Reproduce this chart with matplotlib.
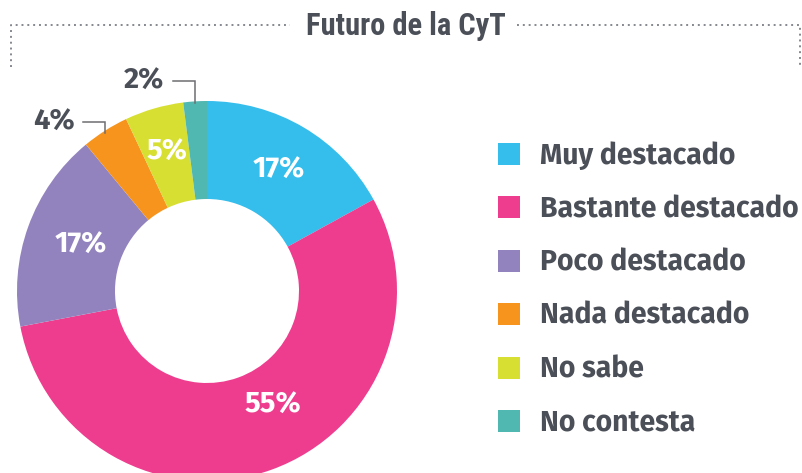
import numpy as np
import matplotlib.pyplot as plt

# data
categories = ['Muy destacado', 'Bastante destacado', 'Poco destacado',
              'Nada destacado', 'No sabe', 'No contesta']
values = [17, 55, 17, 4, 5, 2]
pct_labels = ['17%', '55%', '17%', '4%', '5%', '2%']
colors = ['#35bdec', '#ee3d8f', '#9283be', '#f7941d', '#d7df33', '#50b8b1']
title = 'Futuro de la CyT'

W, H = 802, 473
TXT = '#4b4f58'
GRAY = '#85888e'

fig = plt.figure(figsize=(W / 100, H / 100), dpi=100)
ax = fig.add_axes([0, 0, 1, 1])


def py(y):
    "pixel row (from top) to data y"
    return H - y


cx, cy, R, r_in = 207, py(291), 190, 92
wedges, _ = ax.pie(values, colors=colors, startangle=90, counterclock=False,
                   radius=R, center=(cx, cy), frame=True,
                   wedgeprops=dict(width=R - r_in, linewidth=0))
ax.set_xlim(0, W)
ax.set_ylim(0, H)
ax.set_aspect('equal')
ax.axis('off')

# labels inside the ring
font = ['Fira Sans', 'Roboto', 'DejaVu Sans']
inside = {0: (0, 141), 1: (10.0, 132), 2: (0, 134), 4: (0, 145)}
for i, (dang, rad) in inside.items():
    w = wedges[i]
    ang = np.deg2rad((w.theta1 + w.theta2) / 2 + dang)
    ax.text(cx + rad * np.cos(ang), cy + rad * np.sin(ang), pct_labels[i],
            color='white', fontsize=21, fontweight='bold', family=font,
            ha='center', va='center')

# small slices with leader lines
for i, (lx, ly, tx) in {3: (83, 122, 54), 5: (173, 81, 144)}.items():
    w = wedges[i]
    ang = np.deg2rad((w.theta1 + w.theta2) / 2)
    ex = cx + R * np.cos(ang)
    ey = cy + R * np.sin(ang)
    ax.plot([lx, ex, ex], [py(ly), py(ly), ey - 2], color='#6d6e71', lw=1.1,
            solid_joinstyle='miter')
    ax.text(tx, py(ly), pct_labels[i], color=TXT, fontsize=21,
            fontweight='bold', family=font, ha='center', va='center')

# legend
for k, (lab, col) in enumerate(zip(categories, colors)):
    yc = py(154 + k * 53.4)
    ax.add_patch(plt.Rectangle((498, yc - 11), 22, 22, color=col, lw=0))
    ax.text(540, yc - 2, lab, color=TXT, fontsize=20.4, fontweight='bold',
            family=font, ha='left', va='center')

# title with dotted frame
ax.text(406, py(26), title, color=TXT, fontsize=22,
        family=['Liberation Sans Narrow', 'Roboto Condensed', 'Roboto'],
        fontweight='bold', ha='center', va='center')
dots = dict(color=GRAY, lw=1.4, linestyle=(0, (1, 2)))
ax.plot([11, 11, 290], [py(67), py(25), py(25)], **dots)
ax.plot([517, 800, 800], [py(25), py(25), py(67)], **dots)

fig.savefig('out.png', dpi=100)
